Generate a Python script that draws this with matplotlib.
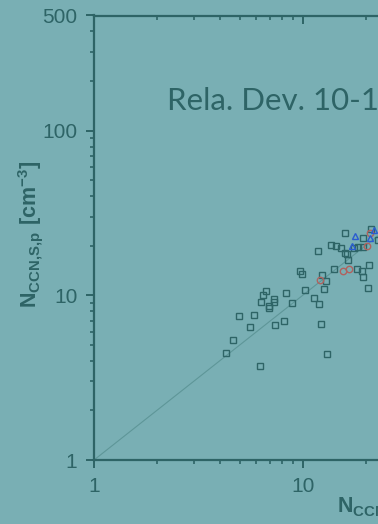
import numpy as np
import matplotlib
matplotlib.use("Agg")
import matplotlib.pyplot as plt

# data: measured vs predicted CCN number concentration [cm^-3]
sq_meas = [15.95, 13.62, 14.44, 15.21, 15.95, 16.25, 11.88, 16.43, 18.47, 19.51,
           17.67, 19.51, 21.17, 22.88, 14.13, 18.2, 19.24, 20.7, 19.39, 20.55,
           9.71, 9.89, 12.42, 12.93, 12.69, 10.26, 8.29, 6.69, 6.43, 6.33,
           7.26, 7.31, 6.9, 6.9, 8.89, 11.33, 11.93, 4.94, 5.82, 5.59,
           7.34, 8.11, 12.28, 4.65, 4.29, 6.22, 13.03]
sq_pred = [23.8, 20.3, 19.9, 19.3, 18.1, 17.8, 18.6, 16.3, 19.7, 19.7,
           19.3, 22.4, 25.3, 21.7, 14.5, 14.5, 14.05, 15.3, 12.9, 11.0,
           14.1, 13.5, 13.2, 12.3, 10.97, 10.8, 10.3, 10.6, 10.1, 9.11,
           9.46, 9.11, 8.65, 8.34, 9.02, 9.67, 8.82, 7.49, 7.62, 6.45,
           6.63, 6.98, 6.69, 5.38, 4.48, 3.74, 4.40]
ci_meas = [12.1, 15.65, 16.67, 20.26, 21.01]
ci_pred = [12.4, 14.1, 14.5, 19.9, 23.8]
tr_meas = [17.81, 17.29, 21.01, 21.96]
tr_pred = [22.9, 19.9, 22.2, 24.9]

lims = [1, 500]
yticks = [1, 10, 100, 500]
xticks = [1, 10, 100]

bg = '#79afb4'
dark = '#2e6466'

plt.rcParams['font.family'] = ['Liberation Sans', 'DejaVu Sans']
plt.rcParams['mathtext.fontset'] = 'custom'
plt.rcParams['mathtext.rm'] = 'Liberation Sans'
plt.rcParams['mathtext.bf'] = 'Liberation Sans:bold'

fig = plt.figure(figsize=(3.78, 5.24), dpi=100, facecolor=bg)
ax = fig.add_axes([94/378, 64/524, 563.3/378, 444.5/524], facecolor=bg)
ax.set_xscale('log')
ax.set_yscale('log')

ax.plot(lims, lims, color='#5e9698', lw=0.8, zorder=1)
ax.plot(sq_meas, sq_pred, 's', ms=3.8, mfc='none', mec=dark, mew=1.0, zorder=3)
ax.plot(ci_meas, ci_pred, 'o', ms=4.6, mfc='none', mec='#b0625e', mew=1.0, zorder=4)
ax.plot(tr_meas, tr_pred, '^', ms=5.0, mfc='none', mec='#2a5cd0', mew=1.0, zorder=5)

ax.set_xlim(lims)
ax.set_ylim(lims)
ax.set_xticks(xticks)
ax.set_xticklabels([str(v) for v in xticks])
ax.set_yticks(yticks)
ax.set_yticklabels([str(v) for v in yticks])

for s in ax.spines.values():
    s.set_color(dark)
    s.set_linewidth(1.6)
ax.tick_params(which='major', direction='out', length=6, width=1.4, color=dark,
               labelcolor=dark, labelsize=15, pad=6, top=False, right=False)
ax.tick_params(which='minor', direction='out', length=3.2, width=1.2, color=dark,
               top=False, right=False)

# top axis: ticks pointing inward, no labels
ax2 = ax.twiny()
ax2.set_xscale('log')
ax2.set_xlim(lims)
ax2.set_xticks(xticks)
ax2.tick_params(which='major', direction='in', length=6, width=1.4, color=dark,
                labeltop=False)
ax2.tick_params(which='minor', direction='in', length=3.2, width=1.2, color=dark)
for s in ax2.spines.values():
    s.set_visible(False)

ax.text(2.24, 133, 'Rela. Dev. 10-15%', family='Lato', fontsize=22.5,
        color=dark, va='baseline', ha='left')

fig.text(31/378, 1 - 234/524, r'$\mathbf{N_{CCN{,}S{,}p}\ [cm^{-3}]}$',
         rotation=90, ha='center', va='center', fontsize=15.5, color=dark)
fig.text(337/378, 1 - 513/524, r'$\mathbf{N_{CCN{,}S{,}m}\ [cm^{-3}]}$',
         ha='left', va='baseline', fontsize=15.5, color=dark)

fig.savefig('out.png', dpi=100, facecolor=bg)
